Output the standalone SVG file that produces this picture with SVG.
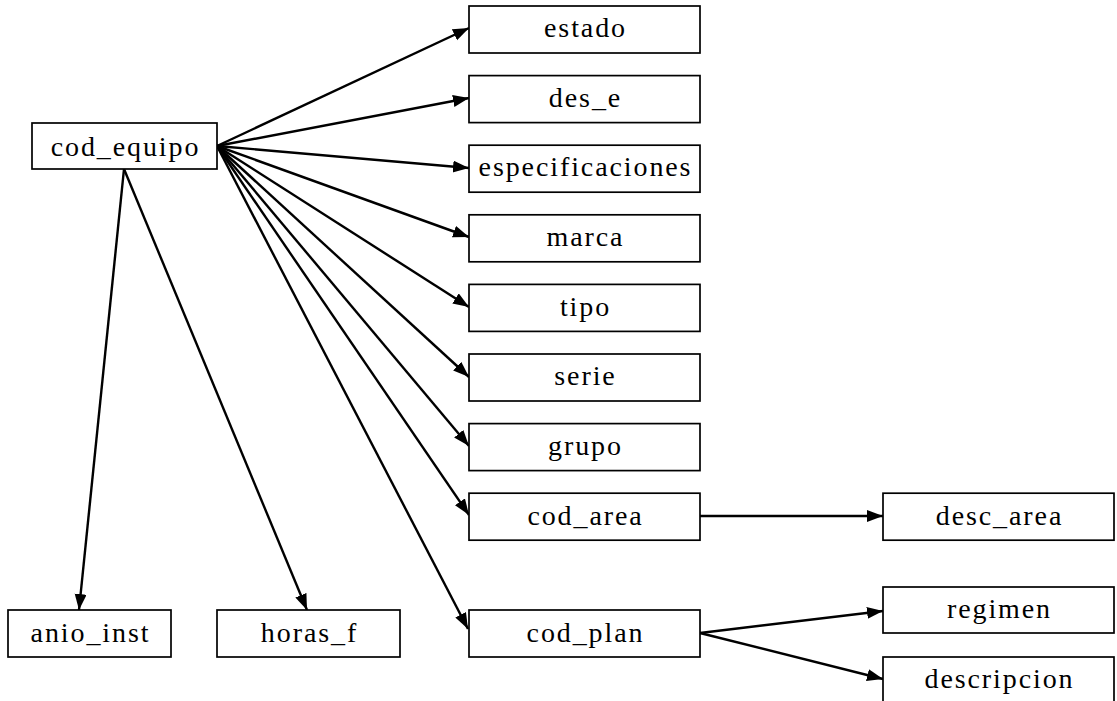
<svg xmlns="http://www.w3.org/2000/svg" width="1117" height="701" viewBox="0 0 1117 701">
  <style>
    .box { fill: #ffffff; stroke: #000000; stroke-width: 1.7; }
    .lbl { font-family: "Liberation Serif", "Times New Roman", serif; font-size: 28px; letter-spacing: 1.9px; text-anchor: middle; fill: #000000; }
    .edge { stroke: #000000; stroke-width: 2.4; fill: none; marker-end: url(#arrow); }
  </style>
  <defs>
    <marker id="arrow" markerUnits="userSpaceOnUse" markerWidth="18" markerHeight="14" refX="16" refY="6" orient="auto">
      <path d="M0,0 L16,6 L0,12 z" fill="#000000"/>
    </marker>
  </defs>
  <rect width="1117" height="701" fill="#ffffff"/>

  <!-- connectors -->
  <g id="connectors">
    <line class="edge" x1="217" y1="146" x2="469" y2="28"/>
    <line class="edge" x1="217" y1="146" x2="469" y2="98"/>
    <line class="edge" x1="217" y1="146" x2="469" y2="168"/>
    <line class="edge" x1="217" y1="146" x2="469" y2="237"/>
    <line class="edge" x1="217" y1="146" x2="469" y2="307"/>
    <line class="edge" x1="217" y1="146" x2="469" y2="377"/>
    <line class="edge" x1="217" y1="146" x2="469" y2="446"/>
    <line class="edge" x1="217" y1="146" x2="469" y2="515"/>
    <line class="edge" x1="217" y1="146" x2="468" y2="629"/>
    <line class="edge" x1="124" y1="169" x2="79" y2="610"/>
    <line class="edge" x1="124" y1="169" x2="307" y2="610"/>
    <line class="edge" x1="700" y1="516" x2="883" y2="516"/>
    <line class="edge" x1="700" y1="633" x2="883" y2="611"/>
    <line class="edge" x1="700" y1="633" x2="883" y2="679"/>
  </g>

  <g id="cod_equipo">
    <rect class="box" x="32" y="123" width="185" height="46"/>
    <text class="lbl" x="125.5" y="155.5">cod_equipo</text>
  </g>
  <g id="estado">
    <rect class="box" x="469" y="6" width="231" height="47"/>
    <text class="lbl" x="585.5" y="37">estado</text>
  </g>
  <g id="des_e">
    <rect class="box" x="469" y="75.6" width="231" height="47"/>
    <text class="lbl" x="585.5" y="107">des_e</text>
  </g>
  <g id="especificaciones">
    <rect class="box" x="469" y="145.2" width="231" height="47"/>
    <text class="lbl" x="585.5" y="176">especificaciones</text>
  </g>
  <g id="marca">
    <rect class="box" x="469" y="214.8" width="231" height="47"/>
    <text class="lbl" x="585.5" y="246">marca</text>
  </g>
  <g id="tipo">
    <rect class="box" x="469" y="284.4" width="231" height="47"/>
    <text class="lbl" x="585.5" y="315.5">tipo</text>
  </g>
  <g id="serie">
    <rect class="box" x="469" y="354" width="231" height="47"/>
    <text class="lbl" x="585.5" y="385">serie</text>
  </g>
  <g id="grupo">
    <rect class="box" x="469" y="423.6" width="231" height="47"/>
    <text class="lbl" x="585.5" y="454.5">grupo</text>
  </g>
  <g id="cod_area">
    <rect class="box" x="469" y="493.2" width="231" height="47"/>
    <text class="lbl" x="585.5" y="524.5">cod_area</text>
  </g>
  <g id="cod_plan">
    <rect class="box" x="469" y="610" width="231" height="47"/>
    <text class="lbl" x="585.5" y="641.5">cod_plan</text>
  </g>
  <g id="desc_area">
    <rect class="box" x="883" y="493.2" width="231" height="47"/>
    <text class="lbl" x="999.5" y="524.5">desc_area</text>
  </g>
  <g id="regimen">
    <rect class="box" x="883" y="587" width="231" height="46"/>
    <text class="lbl" x="999.5" y="617.5">regimen</text>
  </g>
  <g id="descripcion">
    <rect class="box" x="883" y="657" width="231" height="47"/>
    <text class="lbl" x="999.5" y="687.5">descripcion</text>
  </g>
  <g id="anio_inst">
    <rect class="box" x="8" y="610" width="163" height="47"/>
    <text class="lbl" x="90.5" y="641.5">anio_inst</text>
  </g>
  <g id="horas_f">
    <rect class="box" x="217" y="610" width="183" height="47"/>
    <text class="lbl" x="309.5" y="641.5">horas_f</text>
  </g>
</svg>
